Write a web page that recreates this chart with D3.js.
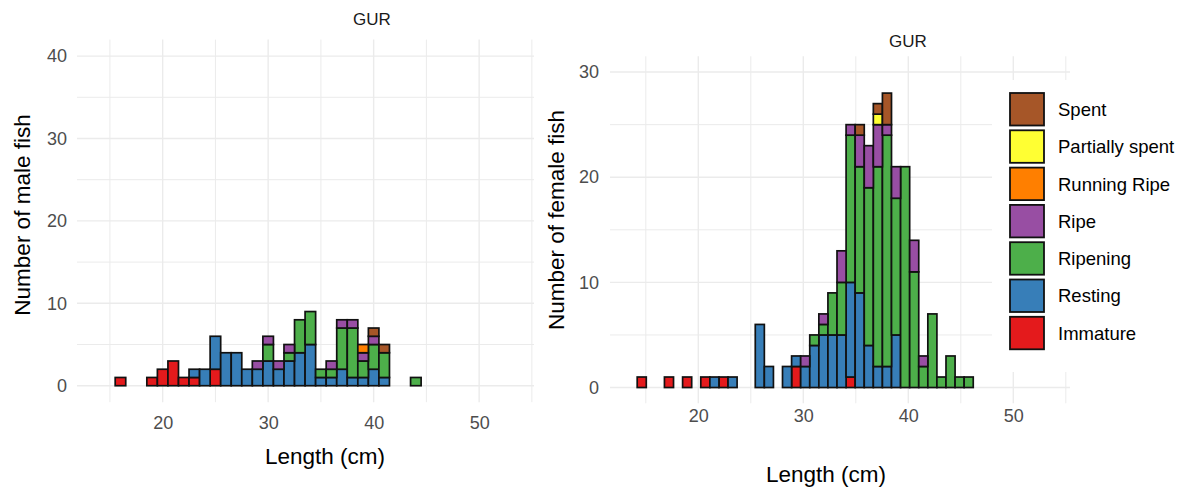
<!DOCTYPE html>
<html>
<head>
<meta charset="utf-8">
<script src="https://cdn.jsdelivr.net/npm/d3@7"></script>
<style>
  body { margin: 0; background: #fff; }
  svg { display: block; font-family: "Liberation Sans", Arial, sans-serif; }
</style>
</head>
<body>
<svg id="chart" width="1185" height="490"></svg>
<script>
// Maturity stages, stacked bottom to top
const stageNames = ["Immature", "Resting", "Ripening", "Ripe", "Running Ripe", "Partially spent", "Spent"];
const stageColours = ["#E41A1C", "#377EB8", "#4DAF4A", "#984EA3", "#FF7F00", "#FFFF33", "#A65628"];

// Male fish: 1 cm length classes (class centre, cm)
const maleLengths = [16,17,18,19,20,21,22,23,24,25,26,27,28,29,30,31,32,33,34,35,36,37,38,39,40,41,42,43,44];
const maleImmature     = [1,0,0,1,2,3,1,1,0,2,0,0,0,0,0,0,0,0,0,0,0,0,0,0,0,0,0,0,0];
const maleResting      = [0,0,0,0,0,0,0,1,2,4,4,4,2,2,3,2,3,4,5,1,1,2,1,1,2,1,0,0,0];
const maleRipening     = [0,0,0,0,0,0,0,0,0,0,0,0,0,0,2,0,1,4,4,1,1,5,6,2,3,3,0,0,1];
const maleRipe         = [0,0,0,0,0,0,0,0,0,0,0,0,0,1,1,1,1,0,0,0,1,1,1,1,1,0,0,0,0];
const maleRunningRipe  = [0,0,0,0,0,0,0,0,0,0,0,0,0,0,0,0,0,0,0,0,0,0,0,1,0,0,0,0,0];
const malePartSpent    = [0,0,0,0,0,0,0,0,0,0,0,0,0,0,0,0,0,0,0,0,0,0,0,0,0,0,0,0,0];
const maleSpent        = [0,0,0,0,0,0,0,0,0,0,0,0,0,0,0,0,0,0,0,0,0,0,0,0,1,1,0,0,0];

// Female fish: 37 length classes starting at femaleBinStart (cm), each femaleBinWidth wide
const femaleBinStart = 14.18;
const femaleBinWidth = 0.865;
const femaleImmature    = [1,0,0,1,0,1,0,1,0,1,0,0,0,0,0,0,0,2,0,0,0,0,0,1,0,0,0,0,0,0,0,0,0,0,0,0,0];
const femaleResting     = [0,0,0,0,0,0,0,0,1,0,1,0,0,6,2,0,2,1,2,4,5,5,5,9,9,4,2,2,5,0,0,0,0,0,0,0,0];
const femaleRipening    = [0,0,0,0,0,0,0,0,0,0,0,0,0,0,0,0,0,0,0,1,1,4,5,14,12,15,19,22,13,21,11,2,7,1,3,1,1];
const femaleRipe        = [0,0,0,0,0,0,0,0,0,0,0,0,0,0,0,0,0,0,1,0,1,0,3,1,3,4,4,1,3,0,3,1,0,0,0,0,0];
const femaleRunningRipe = [0,0,0,0,0,0,0,0,0,0,0,0,0,0,0,0,0,0,0,0,0,0,0,0,0,0,0,0,0,0,0,0,0,0,0,0,0];
const femalePartSpent   = [0,0,0,0,0,0,0,0,0,0,0,0,0,0,0,0,0,0,0,0,0,0,0,0,0,0,1,0,0,0,0,0,0,0,0,0,0];
const femaleSpent       = [0,0,0,0,0,0,0,0,0,0,0,0,0,0,0,0,0,0,0,0,0,0,0,0,1,0,1,3,0,0,0,0,0,0,0,0,0];

// Axis ticks
const xMajorTicks = [20, 30, 40, 50];
const xMinorTicks = [15, 25, 35, 45, 55];
const maleYMajor = [0, 10, 20, 30, 40];
const maleYMinor = [5, 15, 25, 35];
const femaleYMajor = [0, 10, 20, 30];
const femaleYMinor = [5, 15, 25];

// Build histogram rows: one object per length class with bin edges and stage counts
function buildRows(lefts, rights, series) {
  return lefts.map((x0, i) => {
    const row = { x0: x0, x1: rights[i] };
    stageNames.forEach((s, k) => { row[s] = series[k][i]; });
    return row;
  });
}

const maleRows = buildRows(
  maleLengths.map(v => v - 0.5),
  maleLengths.map(v => v + 0.5),
  [maleImmature, maleResting, maleRipening, maleRipe, maleRunningRipe, malePartSpent, maleSpent]
);
const femaleLefts = femaleImmature.map((_, i) => femaleBinStart + i * femaleBinWidth);
const femaleRows = buildRows(
  femaleLefts,
  femaleLefts.map(v => v + femaleBinWidth),
  [femaleImmature, femaleResting, femaleRipening, femaleRipe, femaleRunningRipe, femalePartSpent, femaleSpent]
);

const svg = d3.select("#chart");
const colour = d3.scaleOrdinal().domain(stageNames).range(stageColours);
const stack = d3.stack().keys(stageNames);

function drawPanel(p) {
  const x = d3.scaleLinear().domain(p.xDomain).range(p.xRange);
  const y = d3.scaleLinear().domain(p.yDomain).range(p.yRange);
  const g = svg.append("g");
  const [yb, yt] = p.yRange;
  const [xl, xr] = p.xRange;

  // grid
  const grid = g.append("g").attr("stroke", "#ebebeb");
  grid.selectAll(".hmin").data(p.yMinor).join("line")
    .attr("x1", xl).attr("x2", xr).attr("y1", d => y(d)).attr("y2", d => y(d))
    .attr("stroke-width", 1.0);
  grid.selectAll(".vmin").data(xMinorTicks).join("line")
    .attr("y1", yb).attr("y2", yt).attr("x1", d => x(d)).attr("x2", d => x(d))
    .attr("stroke-width", 1.0);
  grid.selectAll(".hmaj").data(p.yMajor).join("line")
    .attr("x1", xl).attr("x2", xr).attr("y1", d => y(d)).attr("y2", d => y(d))
    .attr("stroke-width", 1.4);
  grid.selectAll(".vmaj").data(xMajorTicks).join("line")
    .attr("y1", yb).attr("y2", yt).attr("x1", d => x(d)).attr("x2", d => x(d))
    .attr("stroke-width", 1.4);

  // stacked bars
  const layers = stack(p.rows);
  g.append("g").selectAll("g").data(layers).join("g")
    .attr("fill", d => colour(d.key))
    .selectAll("rect")
    .data(d => d.filter(s => s[1] > s[0]))
    .join("rect")
    .attr("x", d => x(d.data.x0))
    .attr("width", d => x(d.data.x1) - x(d.data.x0))
    .attr("y", d => y(d[1]))
    .attr("height", d => y(d[0]) - y(d[1]))
    .attr("stroke", "#111")
    .attr("stroke-width", 1.7);

  // axes
  const xAxis = g.append("g")
    .attr("transform", `translate(0,${yb})`)
    .call(d3.axisBottom(x).tickValues(xMajorTicks).tickSize(0).tickPadding(p.xPad));
  const yAxis = g.append("g")
    .attr("transform", `translate(${xl},0)`)
    .call(d3.axisLeft(y).tickValues(p.yMajor).tickSize(0).tickPadding(p.yPad));
  [xAxis, yAxis].forEach(a => {
    a.select(".domain").remove();
    a.selectAll("text").attr("fill", "#4d4d4d").attr("font-size", 18)
      .attr("font-family", "'Liberation Sans', Arial, sans-serif");
  });

  // titles
  g.append("text").attr("x", p.titlePos[0]).attr("y", p.titlePos[1]).attr("dy", "0.35em")
    .attr("text-anchor", "middle").attr("font-size", 17).attr("fill", "#1a1a1a").text(p.title);
  g.append("text").attr("x", p.xTitlePos[0]).attr("y", p.xTitlePos[1]).attr("dy", "0.35em")
    .attr("text-anchor", "middle").attr("font-size", 22.5).attr("fill", "#000").text(p.xTitle);
  g.append("text").attr("transform", `translate(${p.yTitlePos[0]},${p.yTitlePos[1]}) rotate(-90)`)
    .attr("dy", "0.35em").attr("text-anchor", "middle").attr("font-size", 22.5)
    .attr("fill", "#000").text(p.yTitle);
}

drawPanel({
  rows: maleRows,
  xDomain: [11.88, 55.2], xRange: [77, 534],
  yDomain: [-2, 42], yRange: [402.2, 39.6],
  yMajor: maleYMajor, yMinor: maleYMinor,
  xPad: 14, yPad: 10,
  title: "GUR", titlePos: [372, 19],
  xTitle: "Length (cm)", xTitlePos: [325, 456],
  yTitle: "Number of male fish", yTitlePos: [22, 215]
});

drawPanel({
  rows: femaleRows,
  xDomain: [11.59, 55.4], xRange: [610, 1070],
  yDomain: [-1.5, 31.5], yRange: [403.3, 56.3],
  yMajor: femaleYMajor, yMinor: femaleYMinor,
  xPad: 6, yPad: 11,
  title: "GUR", titlePos: [908, 41],
  xTitle: "Length (cm)", xTitlePos: [826, 474],
  yTitle: "Number of female fish", yTitlePos: [556, 220]
});

// legend (top stage first)
const legend = svg.append("g");
legend.append("rect").attr("x", 992).attr("y", 80).attr("width", 193).attr("height", 292).attr("fill", "#fff");
const legendItems = legend.selectAll("g.item").data(stageNames.slice().reverse()).join("g")
  .attr("class", "item")
  .attr("transform", (d, i) => `translate(1010,${93 + i * 37.3})`);
legendItems.append("rect").attr("width", 34).attr("height", 32.5)
  .attr("fill", d => colour(d)).attr("stroke", "#111").attr("stroke-width", 1.8);
legendItems.append("text").attr("x", 48).attr("y", 16.5).attr("dy", "0.35em")
  .attr("font-size", 18.5).attr("fill", "#000").text(d => d);
</script>
</body>
</html>
